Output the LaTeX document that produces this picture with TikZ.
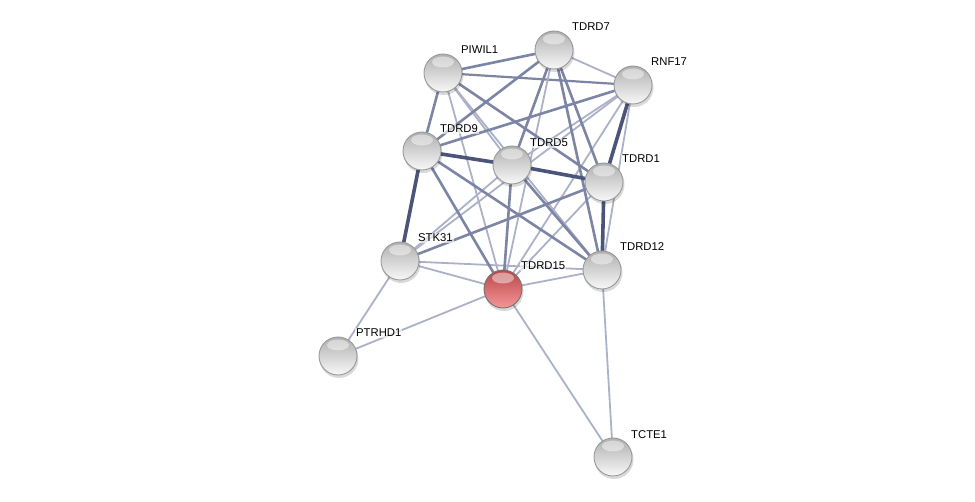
\documentclass[tikz,border=0pt]{standalone}
\usepackage{fontspec}
\setmainfont{Liberation Sans}
\usetikzlibrary{calc}
\definecolor{ethin}{RGB}{172,177,200}
\definecolor{emid}{RGB}{125,133,165}
\definecolor{ethick}{RGB}{75,85,122}
\definecolor{ntop}{RGB}{175,175,175}
\definecolor{nmid}{RGB}{215,215,215}
\definecolor{nbot}{RGB}{248,248,248}
\definecolor{rtop}{RGB}{185,70,72}
\definecolor{rmid}{RGB}{215,105,108}
\definecolor{rbot}{RGB}{245,150,152}
\begin{document}
\begin{tikzpicture}[x=1pt,y=-1pt,
  ethin/.style={draw=ethin,line width=1.8pt},
  emid/.style={draw=emid,line width=2.6pt},
  ethick/.style={draw=ethick,line width=3.6pt},
  prot/.style={circle,minimum size=38pt,inner sep=0pt,top color=ntop,middle color=nmid,bottom color=nbot,draw=gray!80,line width=0.9pt},
  seed/.style={prot,top color=rtop,middle color=rmid,bottom color=rbot,draw=black!55},
  lbl/.style={anchor=west,font=\fontsize{11.3}{12}\selectfont,inner sep=1pt,fill=white,fill opacity=0.6,text opacity=1}]
\useasboundingbox (0,0) rectangle (975,502);
\fill[white] (0,0) rectangle (975,502);
% node coordinates
\coordinate (P) at (443,73);
\coordinate (T7) at (554,50);
\coordinate (R) at (633,85);
\coordinate (T9) at (422,151);
\coordinate (T5) at (512,165);
\coordinate (T1) at (604,182);
\coordinate (S) at (400,261);
\coordinate (T15) at (503,289);
\coordinate (T12) at (602,270);
\coordinate (PT) at (338,356);
\coordinate (TC) at (613,457);
% edges
\draw[ethin] (P) -- (T5);
\draw[ethin] (P) -- (T12);
\draw[ethin] (P) -- (T15);
\draw[emid,line width=2.2pt] (P) -- (R);
\draw[ethin] (T7) -- (R);
\draw[ethin] (T7) -- (T15);
\draw[ethin] (R) -- (T5);
\draw[ethin] (R) -- (T12);
\draw[ethin] (R) -- (S);
\draw[ethin] (R) -- (T15);
\draw[ethin] (T5) -- (S);
\draw[ethin] (T1) -- (T15);
\draw[ethin] (S) -- (T15);
\draw[ethin] (S) -- (T12);
\draw[ethin] (T15) -- (T12);
\draw[ethin] (S) -- (PT);
\draw[ethin] (T15) -- (PT);
\draw[ethin] (T15) -- (TC);
\draw[ethin] (T12) -- (TC);
\draw[emid] (T1) -- (S);
\draw[emid] (T5) -- (T15);
\draw[emid] (T9) -- (T15);
\draw[emid] (T7) -- (T12);
\draw[emid] (P) -- (T7);
\draw[emid] (P) -- (T9);
\draw[emid] (P) -- (T1);
\draw[emid] (T7) -- (T9);
\draw[emid] (T7) -- (T5);
\draw[emid] (T7) -- (T1);
\draw[emid] (R) -- (T9);
\draw[emid] (T5) -- (T12);
\draw[emid] (T9) -- (T12);
\draw[ethick] (R) -- (T1);
\draw[ethick] (T1) -- (T12);
\draw[ethick] (T9) -- (T5);
\draw[ethick] (T5) -- (T1);
\draw[ethick] (T9) -- (S);
% shadows
\foreach \c in {P,T7,R,T9,T5,T1,S,T15,T12,PT,TC}
  \fill[black,opacity=0.15] ($(\c)+(1,2.5)$) circle (19.5pt);
% nodes
\node[prot] (nP) at (P) {};
\node[prot] (nT7) at (T7) {};
\node[prot] (nR) at (R) {};
\node[prot] (nT9) at (T9) {};
\node[prot] (nT5) at (T5) {};
\node[prot] (nT1) at (T1) {};
\node[prot] (nS) at (S) {};
\node[seed] (nT15) at (T15) {};
\node[prot] (nT12) at (T12) {};
\node[prot] (nPT) at (PT) {};
\node[prot] (nTC) at (TC) {};
% highlights
\foreach \c in {P,T7,R,T9,T5,T1,S,T15,T12,PT,TC}
  \fill[white,opacity=0.45] ($(\c)+(0,-11)$) ellipse (11pt and 5.5pt);
% labels
\node[lbl] (lP) at ($(P)+(17,-23)$) {PIWIL1};
\node[lbl] (lT7) at ($(T7)+(17,-23)$) {TDRD7};
\node[lbl] (lR) at ($(R)+(17,-23)$) {RNF17};
\node[lbl] (lT9) at ($(T9)+(17,-22)$) {TDRD9};
\node[lbl] (lT5) at ($(T5)+(17,-22)$) {TDRD5};
\node[lbl] (lT1) at ($(T1)+(17,-23)$) {TDRD1};
\node[lbl] (lS) at ($(S)+(17,-23)$) {STK31};
\node[lbl] (lT15) at ($(T15)+(17,-23)$) {TDRD15};
\node[lbl] (lT12) at ($(T12)+(17,-23)$) {TDRD12};
\node[lbl] (lPT) at ($(PT)+(17,-23)$) {PTRHD1};
\node[lbl] (lTC) at ($(TC)+(17,-22)$) {TCTE1};
\end{tikzpicture}
\end{document}
